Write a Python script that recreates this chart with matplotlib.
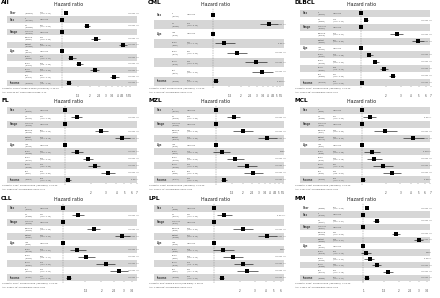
import numpy as np
import matplotlib
matplotlib.use("Agg")
import matplotlib.pyplot as plt
import matplotlib.transforms as mtransforms

# row layouts shared by the panels
vars_a = ["Year", "Sex", "", "Stage", "", "", "Age", "", "", "", "", "Income"]
levels_a = ["", "F", "M", "Localized", "Regional", "Distant",
            "<50", "50-59", "60-69", "70-79", "80+", ""]
vars_b = ["Sex", "", "Stage", "", "", "Age", "", "", "", "", "Income"]
levels_b = ["F", "M", "Localized", "Regional", "Distant",
            "<50", "50-59", "60-69", "70-79", "80+", ""]
vars_c = ["Sex", "", "Age", "", "", "", "", "Income"]
levels_c = ["F", "M", "<50", "50-59", "60-69", "70-79", "80+", ""]

# ---- All
all_n = [30278, 14012, 16266, 10345, 6012, 13921, 5421, 5832, 7120, 6927, 4978, 30278]
all_hr = [1.11, 1, 1.87, 1, 2.32, 4.60, 1, 1.26, 1.53, 2.26, 3.67, 1.18]
all_lo = [1.08, 1, 1.72, 1, 2.08, 4.16, 1, 1.16, 1.41, 2.03, 3.35, 1.11]
all_hi = [1.14, 1, 2.03, 1, 2.60, 5.12, 1, 1.41, 1.69, 2.52, 4.12, 1.25]
all_p = ["<0.001 ***", "", "<0.001 ***", "", "<0.001 ***", "<0.001 ***", "",
         "<0.001 ***", "<0.001 ***", "<0.001 ***", "<0.001 ***", "<0.001 ***"]
all_ticks = [1.5, 2, 2.5, 3, 3.5, 4, 4.5, 5, 5.5]

# ---- CML
cml_n = [1422, 1886, 702, 611, 748, 702, 545, 3308]
cml_hr = [1, 4.15, 1, 1.31, 1.81, 2.96, 3.42, 1.06]
cml_lo = [1, 3.28, 1, 1.04, 1.40, 2.24, 2.65, 1.00]
cml_hi = [1, 5.20, 1, 1.73, 2.33, 3.94, 4.52, 1.13]
cml_p = ["", "<0.001 ***", "", "0.034 *", "<0.001 ***", "<0.001 ***",
         "<0.001 ***", "0.003 **"]
cml_ticks = [1.5, 2, 2.5, 3, 3.5, 4, 4.5, 5, 5.5]

# ---- DLBCL
dlbcl_n = [5520, 6581, 3310, 2176, 6615, 1822, 1904, 2703, 3012, 2660, 12101]
dlbcl_hr = [1, 1.15, 1, 2.70, 4.87, 1, 1.26, 1.49, 1.88, 2.41, 1.03]
dlbcl_lo = [1, 1.08, 1, 2.24, 4.12, 1, 1.17, 1.38, 1.71, 2.16, 1.00]
dlbcl_hi = [1, 1.22, 1, 3.24, 5.80, 1, 1.38, 1.63, 2.10, 2.60, 1.06]
dlbcl_p = ["", "<0.001 ***", "", "<0.001 ***", "<0.001 ***", "", "<0.001 ***",
           "<0.001 ***", "<0.001 ***", "<0.001 ***", "<0.001 ***"]
dlbcl_ticks = [2, 3, 4, 5, 6, 7]

# ---- FL
fl_n = [2941, 2730, 1506, 1288, 2877, 1201, 1396, 1412, 1065, 597, 5671]
fl_hr = [1, 1.37, 1, 2.67, 4.73, 1, 1.37, 1.86, 2.23, 3.20, 1.08]
fl_lo = [1, 1.18, 1, 2.23, 3.84, 1, 1.18, 1.62, 1.86, 2.67, 1.00]
fl_hi = [1, 1.56, 1, 3.20, 5.78, 1, 1.62, 2.13, 2.55, 3.84, 1.15]
fl_p = ["", "<0.001 ***", "", "<0.001 ***", "<0.001 ***", "", "<0.001 ***",
        "<0.001 ***", "<0.001 ***", "<0.001 ***", "0.047 *"]
fl_ticks = [2, 3, 4, 5, 6, 7]

# ---- MZL
mzl_n = [2412, 2135, 2203, 804, 1540, 702, 945, 1186, 1033, 681, 4547]
mzl_hr = [1, 1.59, 1, 1.99, 3.72, 1, 1.19, 1.63, 2.20, 2.60, 1.24]
mzl_lo = [1, 1.32, 1, 1.54, 2.96, 1, 0.94, 1.32, 1.73, 2.05, 1.16]
mzl_hi = [1, 1.86, 1, 2.56, 4.80, 1, 1.46, 2.05, 2.83, 3.36, 1.32]
mzl_p = ["", "<0.001 ***", "", "<0.001 ***", "<0.001 ***", "", "0.152",
         "<0.001 ***", "<0.001 ***", "<0.001 ***", "<0.001 ***"]
mzl_ticks = [1.5, 2, 2.5, 3, 3.5, 4, 4.5, 5, 5.5]

# ---- MCL
mcl_n = [602, 1688, 318, 224, 1748, 212, 398, 702, 612, 366, 2290]
mcl_hr = [1, 1.27, 1, 1.95, 4.32, 1, 1.34, 1.43, 1.81, 2.36, 1.05]
mcl_lo = [1, 1.05, 1, 1.43, 3.19, 1, 1.08, 1.15, 1.37, 1.81, 1.00]
mcl_hi = [1, 1.50, 1, 2.69, 5.90, 1, 1.68, 1.78, 2.40, 3.04, 1.11]
mcl_p = ["", "0.011 *", "", "<0.001 ***", "<0.001 ***", "", "0.008 **",
         "<0.001 ***", "<0.001 ***", "<0.001 ***", "0.036 *"]
mcl_ticks = [2, 3, 4, 5, 6, 7]

# ---- CLL
cll_n = [3122, 4689, 2508, 2216, 3087, 901, 1488, 2216, 2087, 1119, 7811]
cll_hr = [1, 1.31, 1, 1.74, 2.92, 1, 1.29, 1.52, 2.16, 2.75, 1.11]
cll_lo = [1, 1.18, 1, 1.54, 2.54, 1, 1.13, 1.31, 1.83, 2.32, 1.06]
cll_hi = [1, 1.45, 1, 1.96, 3.33, 1, 1.51, 1.77, 2.54, 3.23, 1.15]
cll_p = ["", "<0.001 ***", "", "<0.001 ***", "<0.001 ***", "", "<0.001 ***",
         "<0.001 ***", "<0.001 ***", "<0.001 ***", "<0.001 ***"]
cll_ticks = [1.5, 2, 2.5, 3, 3.5]

# ---- LPL
lpl_n = [998, 1371, 412, 301, 1656, 188, 352, 611, 701, 517, 2369]
lpl_hr = [1, 1.31, 1, 2.15, 4.17, 1, 1.28, 1.65, 2.19, 2.44, 1.23]
lpl_lo = [1, 1.09, 1, 1.68, 3.28, 1, 0.98, 1.28, 1.71, 1.87, 1.15]
lpl_hi = [1, 1.60, 1, 2.82, 5.45, 1, 1.71, 2.19, 2.82, 3.28, 1.32]
lpl_p = ["", "0.004 **", "", "<0.001 ***", "<0.001 ***", "", "0.069",
         "<0.001 ***", "<0.001 ***", "<0.001 ***", "<0.001 ***"]
lpl_ticks = [2, 3, 4, 5, 6]

# ---- MM
mm_n = [9856, 4302, 5554, 2107, 1890, 5859, 1012, 1876, 2901, 2688, 1379, 9856]
mm_hr = [1.07, 1, 1.30, 1, 1.90, 2.98, 1, 1.05, 1.13, 1.30, 1.62, 1.07]
mm_lo = [1.05, 1, 1.20, 1, 1.76, 2.73, 1, 0.95, 1.02, 1.19, 1.46, 1.02]
mm_hi = [1.09, 1, 1.37, 1, 2.06, 3.27, 1, 1.16, 1.24, 1.42, 1.78, 1.11]
mm_p = ["<0.001 ***", "", "<0.001 ***", "", "<0.001 ***", "<0.001 ***", "",
        "0.318", "0.021 *", "<0.001 ***", "<0.001 ***", "<0.001 ***"]
mm_ticks = [1, 1.5, 2, 2.5, 3, 3.5]

# footnotes
events = [10790, 1284, 4512, 1407, 1326, 1108, 2977, 862, 4305]
gpval = ["< 2e-16"] * 9
aic = [187234.45, 17120.66, 70215.38, 19831.02, 19102.77, 14077.51, 42560.19, 11050.83, 71254.12]
cindex = [0.72, 0.70, 0.67, 0.71, 0.68, 0.66, 0.69, 0.67, 0.63]

W, H = 440, 298
fig = plt.figure(figsize=(4.4, 2.98), dpi=100)

# panel: (title, vars, levels, n, hr, lo, hi, p, ticks, x of HR=1 (frac), px per log unit)
panels = [
    ("All", vars_a, levels_a, all_n, all_hr, all_lo, all_hi, all_p, all_ticks, 0.425, 40.0),
    ("CML", vars_c, levels_c, cml_n, cml_hr, cml_lo, cml_hi, cml_p, cml_ticks, 0.455, 39.3),
    ("DLBCL", vars_b, levels_b, dlbcl_n, dlbcl_hr, dlbcl_lo, dlbcl_hi, dlbcl_p, dlbcl_ticks, 0.466, 36.0),
    ("FL", vars_b, levels_b, fl_n, fl_hr, fl_lo, fl_hi, fl_p, fl_ticks, 0.448, 36.7),
    ("MZL", vars_b, levels_b, mzl_n, mzl_hr, mzl_lo, mzl_hi, mzl_p, mzl_ticks, 0.470, 39.3),
    ("MCL", vars_b, levels_b, mcl_n, mcl_hr, mcl_lo, mcl_hi, mcl_p, mcl_ticks, 0.470, 35.3),
    ("CLL", vars_b, levels_b, cll_n, cll_hr, cll_lo, cll_hi, cll_p, cll_ticks, 0.432, 55.3),
    ("LPL", vars_b, levels_b, lpl_n, lpl_hr, lpl_lo, lpl_hi, lpl_p, lpl_ticks, 0.459, 37.3),
    ("MM", vars_a, levels_a, mm_n, mm_hr, mm_lo, mm_hi, mm_p, mm_ticks, 0.482, 50.7),
]

col_x = [0, 147, 293]
row_y = [0, 97, 195]
pw = 146
txt = "#444444"

for k, (title, vs, lv, ns, hr, lo, hi, pv, ticks, f1, s) in enumerate(panels):
    x0 = col_x[k % 3]
    y0 = row_y[k // 3]
    n = len(hr)
    ax = fig.add_axes([x0 / W, 1 - (y0 + 86) / H, pw / W, 76 / H])
    ax.set_xscale("log")
    ax.set_xlim(np.exp(-f1 * pw / s), np.exp((1 - f1) * pw / s))
    ax.set_ylim(n + 0.5, 0.5)
    for sp in ax.spines.values():
        sp.set_visible(False)
    ax.set_yticks([])
    ax.minorticks_off()
    ax.set_xticks(ticks)
    ax.set_xticklabels([("%g" % t) for t in ticks])
    ax.tick_params(axis="x", length=1, width=0.3, pad=5.0, labelsize=2.0,
                   color="#666666", labelcolor=txt)

    rows = np.arange(1, n + 1)
    for i in rows:
        if (n - i) % 2 == 0:
            ax.axhspan(i - 0.5, i + 0.5, xmin=0.045, xmax=0.935,
                       color="#d6d6d6", lw=0, zorder=0)
    ax.axvline(1, ymin=-0.02, ymax=1.03, color="#888888", lw=0.35,
               ls=(0, (3, 2)), zorder=1, clip_on=False)
    ax.hlines(rows, lo, hi, color="black", lw=0.4, zorder=2)
    ax.plot(hr, rows, "s", color="black", ms=2.3, mew=0, zorder=3)

    tr = mtransforms.blended_transform_factory(ax.transAxes, ax.transData)
    for i in range(n):
        y = i + 1
        if vs[i]:
            ax.text(0.065, y, vs[i], transform=tr, fontsize=1.8,
                    fontweight="bold", va="center", ha="left", color=txt)
        if lv[i]:
            ax.text(0.17, y - 0.12, lv[i], transform=tr, fontsize=1.4,
                    va="center", ha="left", color=txt)
            ax.text(0.17, y + 0.16, "(N=%d)" % ns[i], transform=tr,
                    fontsize=1.2, style="italic", va="center", ha="left",
                    color=txt)
        else:
            ax.text(0.17, y, "(N=%d)" % ns[i], transform=tr,
                    fontsize=1.2, style="italic", va="center", ha="left",
                    color=txt)
        if pv[i] == "":
            ax.text(0.275, y, "reference", transform=tr, fontsize=1.4,
                    va="center", ha="left", color=txt)
        else:
            ax.text(0.275, y, "%.2f\n(%.2f - %.2f)" % (hr[i], lo[i], hi[i]),
                    transform=tr, fontsize=1.25, va="center", ha="left",
                    linespacing=1.0, color=txt)
            ax.text(0.95, y, pv[i], transform=tr, fontsize=1.4,
                    va="center", ha="right", color=txt)

    fig.text((x0 + 1) / W, 1 - (y0 + 3) / H, title, fontsize=4.2,
             fontweight="bold", va="center", ha="left")
    fig.text((x0 + 69) / W, 1 - (y0 + 4.5) / H, "Hazard ratio", fontsize=3.4,
             va="center", ha="center", color="#222222")
    fig.text((x0 + 2) / W, 1 - (y0 + 89) / H,
             "# Events: %d; Global p-value (Log-Rank): %s" % (events[k], gpval[k]),
             fontsize=1.5, va="center", ha="left", color=txt)
    fig.text((x0 + 2) / W, 1 - (y0 + 92) / H,
             "AIC: %.2f; Concordance Index: %.2f" % (aic[k], cindex[k]),
             fontsize=1.5, va="center", ha="left", color=txt)

fig.savefig("out.png", dpi=100, facecolor="white")
